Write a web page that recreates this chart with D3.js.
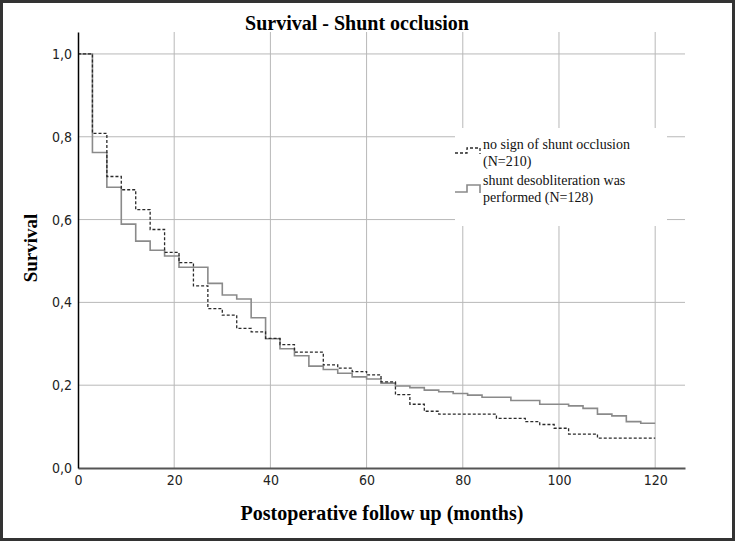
<!DOCTYPE html>
<html>
<head>
<meta charset="utf-8">
<script src="https://cdn.jsdelivr.net/npm/d3@7"></script>
<style>
  body { margin: 0; background: #fff; }
  svg { display: block; }
  .tick text { font-stretch: condensed; }
</style>
</head>
<body>
<script>
// Kaplan-Meier steps (months, survival)
var timesNoSign = [0, 3, 6, 9, 12, 15, 18, 21, 24, 27, 30, 33, 36, 39, 42, 45, 51, 54, 57, 60, 63, 66, 69, 72, 75, 87, 93, 96, 99, 102, 108];
var survNoSign  = [1.0, 0.808, 0.704, 0.672, 0.624, 0.576, 0.521, 0.496, 0.440, 0.385, 0.369, 0.337, 0.329, 0.313, 0.298, 0.280, 0.249, 0.241, 0.233, 0.225, 0.208, 0.177, 0.154, 0.137, 0.130, 0.120, 0.112, 0.105, 0.096, 0.082, 0.072];

var timesDesob = [0, 3, 6, 9, 12, 15, 18, 21, 27, 30, 33, 36, 39, 42, 45, 48, 51, 54, 57, 60, 63, 66, 69, 72, 75, 78, 81, 84, 90, 96, 102, 105, 108, 111, 114, 117];
var survDesob  = [1.0, 0.762, 0.678, 0.589, 0.548, 0.526, 0.512, 0.485, 0.446, 0.418, 0.408, 0.363, 0.312, 0.288, 0.271, 0.246, 0.238, 0.229, 0.220, 0.215, 0.205, 0.198, 0.194, 0.188, 0.184, 0.180, 0.176, 0.171, 0.163, 0.154, 0.150, 0.144, 0.130, 0.126, 0.112, 0.108];

var followUpEnd = 120;
var xTicks = [0, 20, 40, 60, 80, 100, 120];
var yTicks = [0, 0.2, 0.4, 0.6, 0.8, 1.0];
var legendLabels = [
    ["no sign of shunt occlusion", "(N=210)"],
    ["shunt desobliteration was", "performed (N=128)"]
];

var W = 735, H = 541;
var plot = { left: 78, right: 685, top: 32, bottom: 468 };

var svg = d3.select("body").append("svg")
    .attr("width", W)
    .attr("height", H);

// outer frame
svg.append("rect")
    .attr("x", 1.5).attr("y", 1.5)
    .attr("width", W - 3).attr("height", H - 3)
    .attr("fill", "#fff")
    .attr("stroke", "#333")
    .attr("stroke-width", 3);

var x = d3.scaleLinear().domain([0, 126.2]).range([plot.left, plot.right]);
var y = d3.scaleLinear().domain([0, 1.053]).range([plot.bottom, plot.top]);

// grid
svg.append("g")
    .selectAll("line")
    .data(xTicks.filter(function (d) { return d > 0; }))
    .enter().append("line")
    .attr("x1", function (d) { return x(d); })
    .attr("x2", function (d) { return x(d); })
    .attr("y1", plot.top).attr("y2", plot.bottom)
    .attr("stroke", "#b8b8b8")
    .attr("stroke-width", 1);

svg.append("g")
    .selectAll("line")
    .data(yTicks.filter(function (d) { return d > 0; }))
    .enter().append("line")
    .attr("x1", plot.left).attr("x2", plot.right)
    .attr("y1", function (d) { return y(d); })
    .attr("y2", function (d) { return y(d); })
    .attr("stroke", "#b8b8b8")
    .attr("stroke-width", 1);

// curves
function steps(ts, vs) {
    var pts = ts.map(function (t, i) { return [t, vs[i]]; });
    pts.push([followUpEnd, vs[vs.length - 1]]);
    return pts;
}

var line = d3.line()
    .x(function (d) { return x(d[0]); })
    .y(function (d) { return y(d[1]); })
    .curve(d3.curveStepAfter);

svg.append("path")
    .datum(steps(timesDesob, survDesob))
    .attr("d", line)
    .attr("fill", "none")
    .attr("stroke", "#8a8a8a")
    .attr("stroke-width", 1.6);

svg.append("path")
    .datum(steps(timesNoSign, survNoSign))
    .attr("d", line)
    .attr("fill", "none")
    .attr("stroke", "#2a2a2a")
    .attr("stroke-width", 1.3)
    .attr("stroke-dasharray", "3,2");

// axes
var tickFont = "'Liberation Sans Narrow', 'DejaVu Sans', sans-serif";

var xAxis = svg.append("g")
    .attr("transform", "translate(0," + plot.bottom + ")")
    .call(d3.axisBottom(x).tickValues(xTicks).tickSize(0).tickPadding(7));
xAxis.select(".domain").attr("stroke", "#555").attr("stroke-width", 2);
xAxis.selectAll("text")
    .attr("font-family", tickFont)
    .attr("font-size", 14)
    .attr("fill", "#222");

var yAxis = svg.append("g")
    .attr("transform", "translate(" + plot.left + ",0)")
    .call(d3.axisLeft(y).tickValues(yTicks).tickSize(0).tickPadding(6)
        .tickFormat(function (d) { return d.toFixed(1).replace(".", ","); }));
yAxis.select(".domain").attr("stroke", "#000").attr("stroke-width", 1.5);
yAxis.selectAll("text")
    .attr("font-family", tickFont)
    .attr("font-size", 14)
    .attr("fill", "#222");

// legend (white box hides the grid behind it)
var lg = svg.append("g");
lg.append("rect")
    .attr("x", 455).attr("y", 128)
    .attr("width", 212).attr("height", 98)
    .attr("fill", "#fff");

lg.append("path")
    .attr("d", "M455,153H467V148H480V154")
    .attr("fill", "none")
    .attr("stroke", "#2a2a2a")
    .attr("stroke-width", 1.3)
    .attr("stroke-dasharray", "3,2");
lg.append("path")
    .attr("d", "M455,192H467V185H480V193")
    .attr("fill", "none")
    .attr("stroke", "#8a8a8a")
    .attr("stroke-width", 1.6);

var rows = [[149, 165.5], [185, 201.5]];
legendLabels.forEach(function (lab, i) {
    lab.forEach(function (s, j) {
        lg.append("text")
            .attr("x", 483)
            .attr("y", rows[i][j])
            .attr("font-family", "'Liberation Serif', 'Times New Roman', serif")
            .attr("font-size", 14)
            .attr("fill", "#111")
            .text(s);
    });
});

// titles
svg.append("text")
    .attr("x", 357).attr("y", 30)
    .attr("text-anchor", "middle")
    .attr("font-family", "'Liberation Serif', serif")
    .attr("font-weight", "bold")
    .attr("font-size", 20)
    .text("Survival - Shunt occlusion");

svg.append("text")
    .attr("x", 382).attr("y", 520)
    .attr("text-anchor", "middle")
    .attr("font-family", "'Liberation Serif', serif")
    .attr("font-weight", "bold")
    .attr("font-size", 20)
    .text("Postoperative follow up (months)");

svg.append("text")
    .attr("transform", "translate(37,248) rotate(-90)")
    .attr("text-anchor", "middle")
    .attr("font-family", "'Liberation Serif', serif")
    .attr("font-weight", "bold")
    .attr("font-size", 19)
    .text("Survival");
</script>
</body>
</html>
